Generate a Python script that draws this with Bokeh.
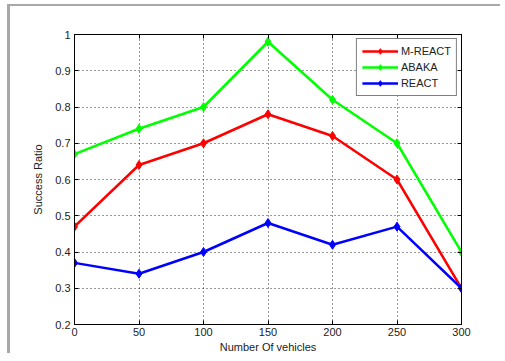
from bokeh.plotting import figure
from bokeh.models import LinearAxis, Legend, LegendItem, FixedTicker, Range1d
from bokeh.embed import file_html
from bokeh.resources import INLINE

vehicles = [0, 50, 100, 150, 200, 250, 300]
m_react = [0.47, 0.64, 0.70, 0.78, 0.72, 0.60, 0.30]
abaka = [0.67, 0.74, 0.80, 0.98, 0.82, 0.70, 0.40]
react = [0.37, 0.34, 0.40, 0.48, 0.42, 0.47, 0.30]
series_names = ["M-REACT", "ABAKA", "REACT"]
series_colors = ["#ff0000", "#00ff00", "#0000ff"]
x_ticks = [0, 50, 100, 150, 200, 250, 300]
y_ticks = [0.2, 0.3, 0.4, 0.5, 0.6, 0.7, 0.8, 0.9, 1.0]

FONT = "Liberation Sans"

p = figure(width=493, height=349, output_backend="svg", toolbar_location=None,
           x_range=Range1d(0, 300), y_range=Range1d(0.2, 1.0),
           min_border_left=64, min_border_right=42, min_border_top=28, min_border_bottom=31)
p.styles = {"border-top": "2px solid #a8a8a8", "border-left": "3px solid #a8a8a8",
            "margin-top": "4px", "margin-left": "7px"}

p.outline_line_color = "black"
p.outline_line_width = 1
p.background_fill_color = "white"
p.border_fill_color = "white"

for ax in (p.xaxis[0], p.yaxis[0]):
    ax.major_tick_in = 4
    ax.major_tick_out = 0
    ax.minor_tick_in = 0
    ax.minor_tick_out = 0
    ax.axis_line_color = "black"
    ax.major_tick_line_color = "black"
    ax.major_label_text_font = FONT
    ax.major_label_text_font_size = "11px"
    ax.major_label_text_color = "#222222"
    ax.axis_label_text_font = FONT
    ax.axis_label_text_font_size = "11px"
    ax.axis_label_text_font_style = "normal"
    ax.axis_label_text_color = "#222222"

p.xaxis[0].ticker = FixedTicker(ticks=x_ticks)
p.yaxis[0].ticker = FixedTicker(ticks=y_ticks)
p.yaxis[0].major_label_overrides = {1.0: "1"}
p.xaxis[0].axis_label = "Number Of vehicles"
p.yaxis[0].axis_label = "Success Ratio"
p.xaxis[0].major_label_standoff = 3
p.yaxis[0].major_label_standoff = 4
p.xaxis[0].axis_label_standoff = 2
p.yaxis[0].axis_label_standoff = 8

top_ax = LinearAxis(ticker=FixedTicker(ticks=x_ticks),
                    major_label_overrides={t: "" for t in x_ticks},
                    major_label_standoff=0,
                    major_tick_in=4, major_tick_out=0, minor_tick_in=0, minor_tick_out=0,
                    axis_line_color="black")
right_ax = LinearAxis(ticker=FixedTicker(ticks=y_ticks),
                      major_label_overrides={t: "" for t in y_ticks},
                      major_label_standoff=0,
                      major_tick_in=4, major_tick_out=0, minor_tick_in=0, minor_tick_out=0,
                      axis_line_color="black")
p.add_layout(top_ax, "above")
p.add_layout(right_ax, "right")

p.xgrid.ticker = FixedTicker(ticks=x_ticks)
p.ygrid.ticker = FixedTicker(ticks=y_ticks)
for g in (p.xgrid[0], p.ygrid[0]):
    g.grid_line_color = "black"
    g.grid_line_dash = "1 3"
    g.grid_line_width = 1
    g.grid_line_alpha = 0.8

items = []
for name, ys, col in zip(series_names, [m_react, abaka, react], series_colors):
    r1 = p.line(vehicles, ys, line_color=col, line_width=2.5)
    r2 = p.scatter(vehicles, ys, marker="diamond", size=9, fill_color=col, line_color=col)
    items.append(LegendItem(label=name, renderers=[r1, r2]))

legend = Legend(items=items, location="top_right")
p.add_layout(legend, "center")
legend.margin = 4
legend.border_line_color = "black"
legend.border_line_width = 1
legend.background_fill_color = "white"
legend.background_fill_alpha = 1
legend.label_text_font = FONT
legend.label_text_font_size = "11px"
legend.label_text_color = "#222222"
legend.glyph_width = 36
legend.glyph_height = 14
legend.label_height = 14
legend.spacing = 2
legend.padding = 5
legend.label_standoff = 3

open("out.html", "w").write(file_html(p, INLINE))
